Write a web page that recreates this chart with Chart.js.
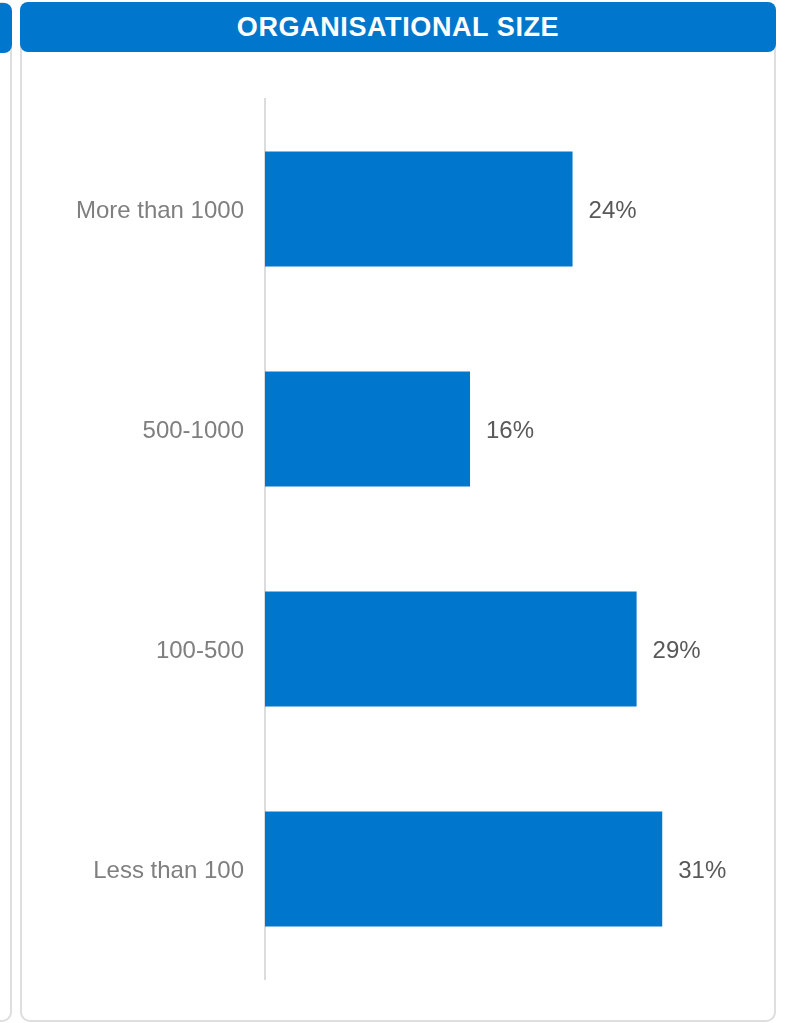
<!DOCTYPE html>
<html lang="en">
<head>
    <meta charset="UTF-8">
    <title>Organisational size</title>
    <script src="https://cdn.jsdelivr.net/npm/chart.js"></script>
    <style>
        html, body { margin: 0; padding: 0; background: #fff; overflow: hidden; }
        body { width: 787px; height: 1023px; position: relative; font-family: "Liberation Sans", Arial, sans-serif; }
        .panel { position: absolute; border: 2px solid #dedede; border-radius: 10px; box-sizing: border-box; }
        .head { position: absolute; background: #0077cc; border-radius: 8px; color: #fff; font-weight: bold;
                font-size: 27px; text-align: center; line-height: 50px; letter-spacing: 0.6px; }
        #sizeChart { position: absolute; left: 0; top: 0; }
    </style>
</head>
<body>
    <!-- neighbouring panel, cut off at the left edge -->
    <div class="panel" style="left:-500px; top:2px; width:512px; height:1020px;"></div>
    <div class="head" style="left:-500px; top:3px; width:512px; height:50px;"></div>

    <div class="panel" style="left:20px; top:2px; width:756px; height:1020px;"></div>
    <div class="head" style="left:20px; top:2px; width:756px; height:50px;">ORGANISATIONAL SIZE</div>

    <canvas id="sizeChart" width="787" height="1023"></canvas>

    <script>
        // data
        const sizes = ['More than 1000', '500-1000', '100-500', 'Less than 100'];
        const shares = [24, 16, 29, 31];

        // value labels to the right of each bar
        const valueLabels = {
            id: 'valueLabels',
            afterDatasetsDraw(chart) {
                const ctx = chart.ctx;
                const meta = chart.getDatasetMeta(0);
                ctx.save();
                ctx.font = '24px "Liberation Sans", Arial, sans-serif';
                ctx.fillStyle = '#595959';
                ctx.textAlign = 'left';
                ctx.textBaseline = 'middle';
                meta.data.forEach((bar, i) => {
                    ctx.fillText(shares[i] + '%', bar.x + 16, bar.y + 2);
                });
                ctx.restore();
            }
        };

        const ctx = document.getElementById('sizeChart').getContext('2d');
        new Chart(ctx, {
            type: 'bar',
            data: {
                labels: sizes,
                datasets: [{
                    data: shares,
                    backgroundColor: '#0077cc',
                    borderWidth: 0,
                    categoryPercentage: 1,
                    barPercentage: 0.523
                }]
            },
            options: {
                indexAxis: 'y',
                responsive: false,
                animation: false,
                layout: { padding: { top: 99, bottom: 44, left: 0, right: 12 } },
                plugins: {
                    legend: { display: false },
                    tooltip: { enabled: false }
                },
                scales: {
                    x: { display: false, min: 0, max: 39.8 },
                    y: {
                        afterFit(scale) { scale.width = 265; },
                        grid: { display: false },
                        border: { display: true, color: '#dcdcdc', width: 2 },
                        ticks: {
                            color: '#7f7f7f',
                            padding: 13,
                            labelOffset: 2,
                            font: { family: '"Liberation Sans", Arial, sans-serif', size: 24 }
                        }
                    }
                }
            },
            plugins: [valueLabels]
        });
    </script>
</body>
</html>
